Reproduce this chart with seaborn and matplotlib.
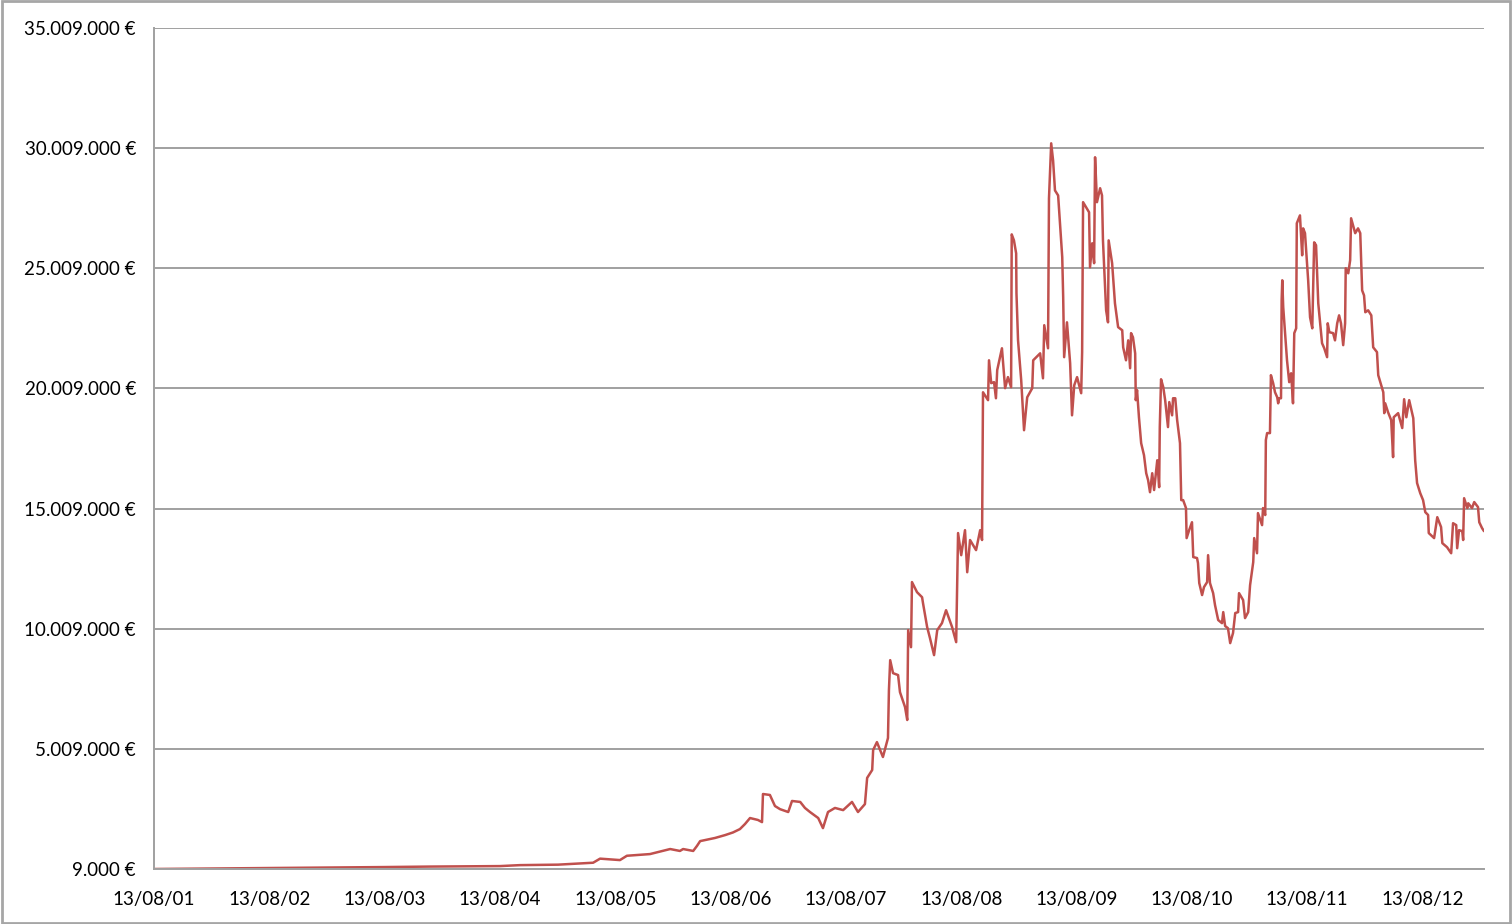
import pandas as pd
import matplotlib.pyplot as plt
import matplotlib.dates as mdates
import matplotlib.ticker as mticker
from matplotlib.patches import Rectangle
import seaborn as sns

# Portfolio value
start_date = "2001-08-13"

# days since start_date
days = [
    0, 177, 367, 573, 732, 874, 1096, 1159, 1280, 1391, 1413, 1476, 1498, 1571,
    1635, 1666, 1676, 1708, 1720, 1730, 1777, 1809, 1834, 1856, 1872, 1888, 1913,
    1926, 1929, 1951, 1967, 1983, 2009, 2021, 2047, 2062, 2078, 2104, 2119, 2135,
    2157, 2183, 2211, 2230, 2252, 2259, 2275, 2278, 2290, 2309, 2325, 2328, 2332,
    2341, 2357, 2363, 2379, 2386, 2389, 2398, 2401, 2417, 2433, 2436, 2449, 2458,
    2471, 2481, 2496, 2509, 2528, 2541, 2547, 2557, 2569, 2576, 2585, 2604, 2617,
    2623, 2626, 2642, 2645, 2652, 2661, 2667, 2671, 2686, 2696, 2705, 2715, 2717,
    2724, 2731, 2732, 2737, 2747, 2756, 2766, 2782, 2785, 2807, 2816, 2820, 2832,
    2835, 2842, 2848, 2854, 2864, 2877, 2880, 2883, 2892, 2902, 2908, 2915, 2924,
    2937, 2940, 2943, 2962, 2965, 2972, 2978, 2981, 2987, 2997, 3003, 3006, 3016,
    3022, 3024, 3035, 3044, 3054, 3067, 3070, 3079, 3086, 3092, 3095, 3101, 3108,
    3110, 3114, 3120, 3127, 3136, 3143, 3149, 3155, 3162, 3168, 3178, 3184, 3186,
    3190, 3197, 3203, 3212, 3216, 3225, 3228, 3235, 3241, 3250, 3254, 3260, 3269,
    3271, 3279, 3288, 3292, 3304, 3307, 3311, 3320, 3326, 3336, 3339, 3345, 3355,
    3361, 3371, 3383, 3387, 3393, 3402, 3409, 3418, 3425, 3434, 3437, 3450, 3456,
    3466, 3472, 3482, 3485, 3494, 3497, 3510, 3513, 3520, 3522, 3526, 3535, 3538,
    3545, 3551, 3558, 3561, 3564, 3570, 3572, 3574, 3577, 3589, 3596, 3602, 3608,
    3612, 3618, 3620, 3630, 3637, 3640, 3646, 3656, 3662, 3669, 3675, 3681, 3688,
    3700, 3707, 3716, 3718, 3723, 3735, 3741, 3748, 3754, 3760, 3767, 3773, 3775,
    3783, 3789, 3792, 3805, 3814, 3821, 3827, 3833, 3837, 3846, 3856, 3862, 3874,
    3878, 3894, 3897, 3900, 3909, 3919, 3925, 3927, 3941, 3954, 3960, 3967, 3976,
    3989, 3995, 4001, 4011, 4020, 4027, 4036, 4038, 4055, 4065, 4077, 4081, 4096,
    4109, 4115, 4125, 4128, 4134, 4144, 4147, 4150, 4160, 4163, 4175, 4182, 4194,
    4198, 4207, 4213,
]

# value in million euro
value_m = [
    0.009, 0.03, 0.05, 0.07, 0.09, 0.11, 0.13, 0.17, 0.19, 0.27, 0.44, 0.38, 0.56, 0.63,
    0.84, 0.76, 0.84, 0.76, 0.97, 1.17, 1.30, 1.42, 1.53, 1.67, 1.88, 2.13, 2.05,
    1.96, 3.13, 3.09, 2.63, 2.50, 2.38, 2.84, 2.80, 2.55, 2.38, 2.13, 1.71, 2.38,
    2.55, 2.46, 2.80, 2.38, 2.71, 3.80, 4.13, 4.96, 5.29, 4.67, 5.46, 7.45, 8.70,
    8.16, 8.08, 7.37, 6.75, 6.21, 9.95, 9.24, 11.95, 11.53, 11.32, 11.07, 10.08, 9.62,
    8.91, 9.95, 10.24, 10.78, 10.08, 9.45, 13.99, 13.07, 14.11, 12.36, 13.70, 13.28, 14.11,
    13.70, 19.85, 19.52, 21.18, 20.23, 20.27, 19.60, 20.77, 21.68, 20.02, 20.48, 20.06, 26.42,
    26.17, 25.63, 23.97, 22.01, 20.35, 18.27, 19.64, 20.02, 21.18, 21.47, 20.43, 22.64, 21.68,
    27.92, 30.21, 29.50, 28.25, 28.04, 25.47, 23.80, 21.31, 22.76, 21.06, 18.89, 20.14, 20.48,
    19.81, 21.52, 27.76, 27.34, 25.05, 26.05, 25.22, 29.63, 27.76, 28.34, 28.04, 26.17, 23.26,
    22.76, 26.17, 25.22, 23.55, 22.56, 22.43, 21.72, 21.18, 22.01, 20.85, 22.31, 22.14, 21.47,
    19.52, 19.94, 18.81, 17.73, 17.23, 16.48, 16.19, 15.69, 16.48, 15.78, 17.02, 15.90, 18.40,
    20.39, 20.06, 19.52, 18.40, 19.44, 18.89, 19.60, 19.60, 18.69, 17.73, 15.36, 15.36, 15.03,
    13.78, 14.11, 14.44, 12.99, 12.95, 12.74, 11.91, 11.41, 11.74, 11.95, 13.07, 11.91, 11.49,
    10.99, 10.37, 10.24, 10.70, 10.12, 10.03, 9.41, 9.83, 10.66, 10.70, 11.49, 11.20, 10.45,
    10.70, 11.82, 12.78, 13.78, 13.15, 14.82, 14.32, 15.03, 14.74, 17.86, 18.15, 18.15, 20.56,
    20.23, 19.85, 19.64, 19.39, 19.60, 19.60, 23.68, 24.51, 23.39, 21.18, 20.27, 20.64, 19.39,
    22.31, 22.51, 26.88, 27.21, 25.55, 26.67, 26.47, 24.51, 22.97, 22.51, 26.09, 25.97, 23.55,
    21.89, 21.68, 21.31, 22.72, 22.35, 22.31, 22.01, 22.72, 23.05, 22.72, 21.81, 22.72, 25.01,
    24.80, 25.34, 27.09, 26.47, 26.67, 26.47, 24.09, 23.88, 23.18, 23.26, 23.05, 21.72, 21.52,
    20.56, 19.85, 18.98, 19.39, 19.02, 18.69, 17.15, 18.81, 18.98, 18.36, 19.56, 18.81, 19.52,
    18.77, 17.02, 16.07, 15.65, 15.36, 14.86, 14.74, 13.99, 13.78, 14.65, 14.24, 13.57, 13.40,
    13.15, 14.40, 14.32, 13.36, 14.11, 14.07, 13.70, 15.44, 15.03, 15.23, 15.03, 15.28, 15.07,
    14.44, 14.19, 14.07,
]

y_min = 9000
y_step = 5_000_000
y_max = 35_009_000

df = pd.DataFrame({
    "date": pd.Timestamp(start_date) + pd.to_timedelta(days, unit="D"),
    "value": [v * 1e6 for v in value_m],
})
df.loc[0, "value"] = y_min

sns.set_style("white")
plt.rcParams["font.family"] = ["Lato", "DejaVu Sans"]

fig = plt.figure(figsize=(15.12, 9.24), dpi=100)
ax = fig.add_axes([154 / 1512, 1 - 869 / 924, (1484 - 154) / 1512, (869 - 28) / 924])

sns.lineplot(data=df, x="date", y="value", ax=ax, color="#C0504D",
             linewidth=1.8, estimator=None)

ax.set_xlim(df["date"].iloc[0], df["date"].iloc[-1])
ax.set_ylim(y_min, y_max)
ax.yaxis.set_major_locator(mticker.FixedLocator(range(y_min, y_max + 1, y_step)))
ax.yaxis.set_major_formatter(
    mticker.FuncFormatter(lambda v, p: f"{int(round(v)):,}".replace(",", ".") + " €"))
ax.xaxis.set_major_locator(mdates.YearLocator(base=1, month=8, day=13))
ax.xaxis.set_major_formatter(mdates.DateFormatter("%d/%m/%y"))

grid_col = "#A0A0A0"
ax.grid(axis="y", color=grid_col, linewidth=1.4)
ax.grid(axis="x", visible=False)
ax.set_axisbelow(True)
for side in ["top", "right"]:
    ax.spines[side].set_visible(False)
for side in ["left", "bottom"]:
    ax.spines[side].set_color(grid_col)
    ax.spines[side].set_linewidth(1.4)

ax.tick_params(axis="both", which="major", direction="out", length=6, width=1.4,
               color=grid_col, labelsize=13.5, labelcolor="black")
ax.tick_params(axis="y", pad=7)
ax.tick_params(axis="x", pad=10)
ax.set_xlabel("")
ax.set_ylabel("")

fig.patches.append(Rectangle((0.001, 0.001), 0.998, 0.998, transform=fig.transFigure,
                             fill=False, edgecolor="#A6A6A6", linewidth=2))

fig.savefig("out.png", dpi=100)
